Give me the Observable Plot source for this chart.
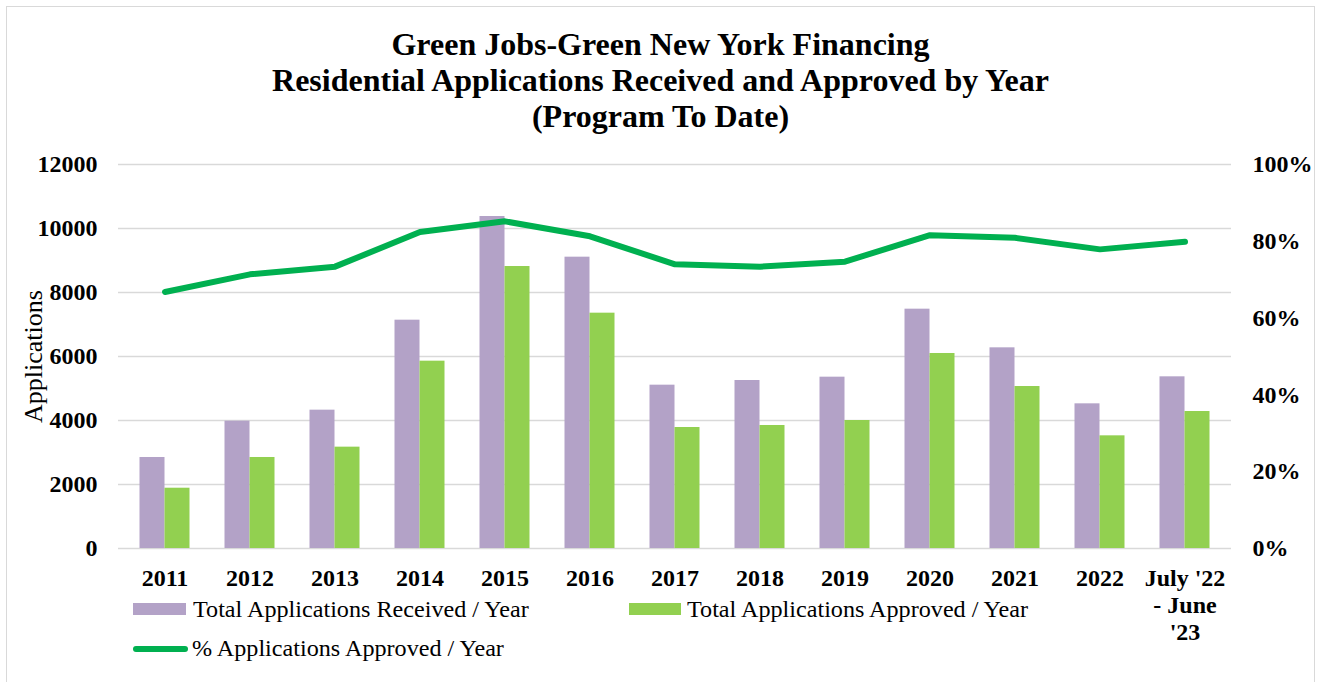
<!DOCTYPE html>
<html><head><meta charset="utf-8">
<script src="https://cdn.jsdelivr.net/npm/d3@7"></script>
<script src="https://cdn.jsdelivr.net/npm/@observablehq/plot@0.6"></script>
<style>
body{margin:0;background:#fff;font-family:"Liberation Serif","Times New Roman",serif;}
#wrap{position:relative;width:1321px;height:682px;overflow:hidden;}
#frame{position:absolute;left:6px;top:6px;width:1309px;height:700px;border:1.5px solid #d9d9d9;box-sizing:border-box;}
#title{position:absolute;left:0;top:26px;width:1321px;text-align:center;font-weight:bold;font-size:32px;line-height:36px;color:#000;}
#chart{position:absolute;left:0;top:140px;}
.leg{position:absolute;font-size:23px;white-space:nowrap;line-height:1;color:#000;transform:scaleX(1.05);transform-origin:0 50%;}
.sw{position:absolute;}
</style></head><body>
<div id="wrap">
<div id="frame"></div>
<div id="title">Green Jobs-Green New York Financing<br>Residential Applications Received and Approved by Year<br>(Program To Date)</div>
<div id="chart"></div>
<div class="sw" style="left:133px;top:603px;width:53px;height:12px;background:#b3a2c7"></div>
<div class="leg" style="left:193px;top:598px">Total Applications Received / Year</div>
<div class="sw" style="left:629px;top:603px;width:52px;height:12px;background:#92d050"></div>
<div class="leg" style="left:687px;top:598px">Total Applications Approved / Year</div>
<div class="sw" style="left:133px;top:646px;width:55px;height:6px;border-radius:3px;background:#00b050"></div>
<div class="leg" style="left:192px;top:637px">% Applications Approved / Year</div>
</div>
<script>
const categories = ["2011","2012","2013","2014","2015","2016","2017","2018","2019","2020","2021","2022","July '22\n- June\n'23"];
const received = [2844, 3979, 4323, 7135, 10375, 9104, 5104, 5250, 5354, 7479, 6271, 4521, 5365];
const approved = [1884, 2844, 3167, 5854, 8812, 7354, 3781, 3844, 4000, 6094, 5062, 3521, 4281];
const pctApproved = [66.8, 71.4, 73.4, 82.4, 85.2, 81.3, 74.0, 73.4, 74.7, 81.6, 80.9, 77.9, 79.9];
const leftTicks = [0, 2000, 4000, 6000, 8000, 10000, 12000];
const rightTicks = [0, 20, 40, 60, 80, 100];

const rows = categories.map((c, i) => ({cat: c, rec: received[i], app: approved[i], pct: pctApproved[i]}));
const k = 12000 / 100; // right axis (percent) aligned to left axis range

const chart = Plot.plot({
  width: 1321, height: 542,
  marginTop: 24, marginBottom: 134, marginLeft: 118, marginRight: 90,
  style: {fontFamily: "'Liberation Serif', 'Times New Roman', serif", background: "transparent", color: "#000"},
  x: {type: "band", domain: categories, paddingInner: 0.708, paddingOuter: 0.354},
  y: {domain: [0, 12000]},
  marks: [
    Plot.gridY(leftTicks, {stroke: "#d9d9d9", strokeOpacity: 1, strokeWidth: 1.5}),
    Plot.barY(rows, {x: "cat", y: "rec", fill: "#b3a2c7", dx: -12.5}),
    Plot.barY(rows, {x: "cat", y: "app", fill: "#92d050", dx: 12.5}),
    Plot.line(rows, {x: "cat", y: d => d.pct * k, stroke: "#00b050", strokeWidth: 6, strokeLinejoin: "round", strokeLinecap: "round"}),
    Plot.axisY(leftTicks, {anchor: "left", tickSize: 0, tickPadding: 21, fontSize: 24, fontWeight: "bold", tickFormat: d => String(d), label: null}),
    Plot.axisY(rightTicks.map(p => p * k), {anchor: "right", tickSize: 0, tickPadding: 21, fontSize: 24, fontWeight: "bold", tickFormat: v => Math.round(v / k) + "%", label: null}),
    Plot.axisX({tickSize: 0, tickPadding: 18.5, fontSize: 24, fontWeight: "bold", lineHeight: 1.13, label: null}),
    Plot.text(["Applications"], {frameAnchor: "left", rotate: -90, dx: -85, textAnchor: "middle", fontSize: 26})
  ]
});
document.getElementById("chart").appendChild(chart);
</script>
</body></html>
